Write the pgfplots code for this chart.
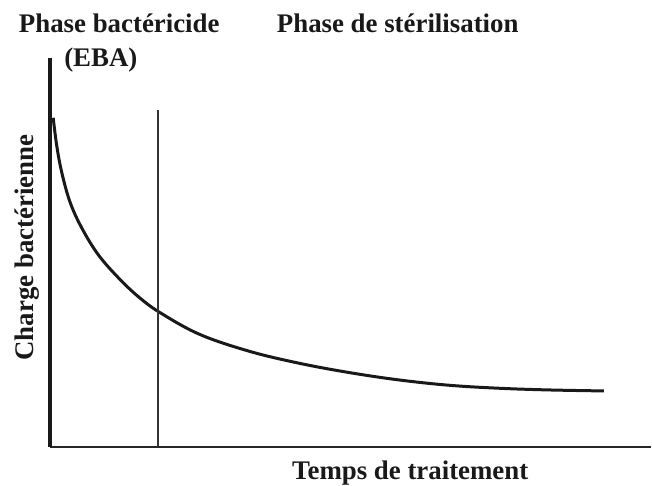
\documentclass[border=0pt]{standalone}
\usepackage{fontspec}
\setmainfont{Liberation Serif}
\usepackage{pgfplots}
\pgfplotsset{compat=1.18}
\begin{document}
\begin{tikzpicture}
\begin{axis}[
  x=1bp, y=1bp,
  xmin=50, xmax=652, ymin=0, ymax=390,
  axis lines=left,
  axis line style={-},
  x axis line style={line width=2.5bp, black!85},
  y axis line style={line width=4bp, black!90},
  xtick=\empty, ytick=\empty,
  clip=false,
]
\addplot[black!90, line width=3bp, smooth, tension=0.6] coordinates {
(53.3,330) (56.7,303) (61.7,276) (70,246) (81.7,220) (98.3,193) (118.3,170)
(138.3,151) (160,135) (200,113) (250,96) (300,84) (350,74.7) (400,67.3)
(450,62) (500,59) (550,57.3) (605,56.3)
};
\addplot[black!80, line width=2bp] coordinates {(158,1) (158,338)};
\path (axis cs:0,448) rectangle (axis cs:652,-38);
\begin{scope}[every node/.style={font=\fontsize{27}{32}\selectfont\bfseries, inner sep=0pt, text=black!90}]
\node[anchor=base] at (axis cs:119.5,415) {Phase bactéricide};
\node[anchor=base] at (axis cs:101,381) {(EBA)};
\node[anchor=base] at (axis cs:398.5,415) {Phase de stérilisation};
\node[anchor=base] at (axis cs:411,-32) {Temps de traitement};
\node[rotate=90, anchor=center] at (axis cs:27,200) {Charge bactérienne};
\end{scope}
\end{axis}
\end{tikzpicture}
\end{document}
